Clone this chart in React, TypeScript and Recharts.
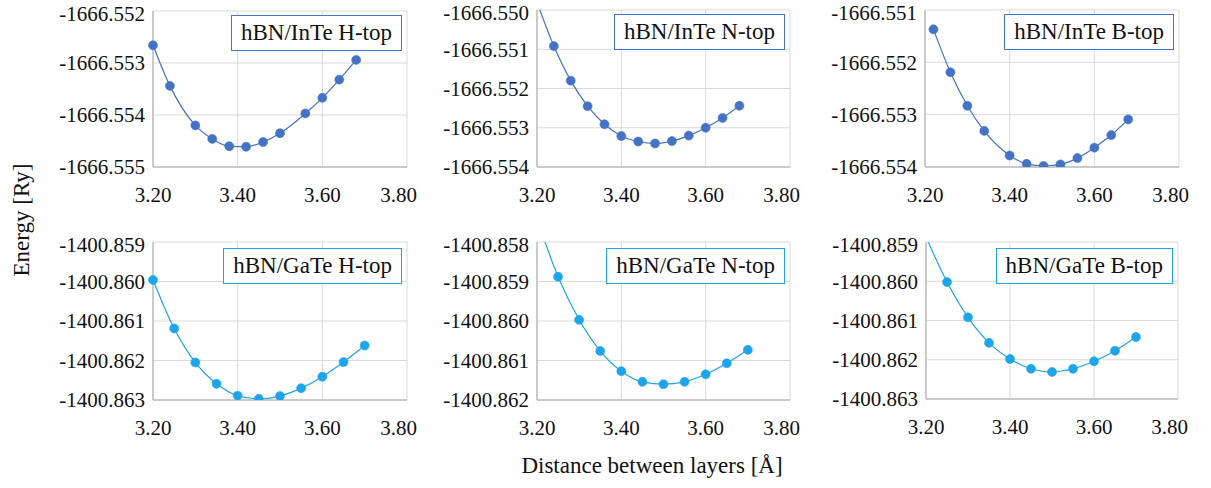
import React from 'react';
import { LineChart, Line, XAxis, YAxis, CartesianGrid, Legend } from 'recharts';

// Interlayer distance [Å] sampled for each stacking
const inteHtopX = [3.2, 3.24, 3.3, 3.34, 3.38, 3.42, 3.46, 3.5, 3.56, 3.6, 3.64, 3.68];
const inteNtopX = [3.2, 3.24, 3.28, 3.32, 3.36, 3.4, 3.44, 3.48, 3.52, 3.56, 3.6, 3.64, 3.68];
const inteBtopX = [3.22, 3.26, 3.3, 3.34, 3.4, 3.44, 3.48, 3.52, 3.56, 3.6, 3.64, 3.68];
const gateX = [3.2, 3.25, 3.3, 3.35, 3.4, 3.45, 3.5, 3.55, 3.6, 3.65, 3.7];

// Total energy [Ry]
const inteHtopE = [
  -1666.55266, -1666.55344, -1666.5542, -1666.55446, -1666.5546, -1666.55461,
  -1666.55452, -1666.55435, -1666.55397, -1666.55367, -1666.55332, -1666.55294,
];
const inteNtopE = [
  -1666.5498, -1666.55092, -1666.5518, -1666.55245, -1666.55291, -1666.55321, -1666.55335,
  -1666.5534, -1666.55334, -1666.5532, -1666.553, -1666.55275, -1666.55244,
];
const inteBtopE = [
  -1666.55137, -1666.55219, -1666.55283, -1666.55331, -1666.55378, -1666.55394,
  -1666.55398, -1666.55395, -1666.55383, -1666.55363, -1666.55339, -1666.55309,
];
const gateHtopE = [
  -1400.85996, -1400.86119, -1400.86205, -1400.86259, -1400.86289, -1400.86297,
  -1400.8629, -1400.8627, -1400.86241, -1400.86204, -1400.86162,
];
const gateNtopE = [
  -1400.85742, -1400.85888, -1400.85997, -1400.86076, -1400.86127, -1400.86154,
  -1400.8616, -1400.86154, -1400.86135, -1400.86107, -1400.86073,
];
const gateBtopE = [
  -1400.85887, -1400.86002, -1400.86092, -1400.86157, -1400.86198, -1400.86223,
  -1400.86231, -1400.86223, -1400.86204, -1400.86177, -1400.86142,
];

// Axis ticks
const xTicks = [3.2, 3.4, 3.6, 3.8];
const inteHtopTicks = [-1666.555, -1666.554, -1666.553, -1666.552];
const inteNtopTicks = [-1666.554, -1666.553, -1666.552, -1666.551, -1666.55];
const inteBtopTicks = [-1666.554, -1666.553, -1666.552, -1666.551];
const gateHtopTicks = [-1400.863, -1400.862, -1400.861, -1400.86, -1400.859];
const gateNtopTicks = [-1400.862, -1400.861, -1400.86, -1400.859, -1400.858];
const gateBtopTicks = [-1400.863, -1400.862, -1400.861, -1400.86, -1400.859];

const titles = [
  'hBN/InTe H-top', 'hBN/InTe N-top', 'hBN/InTe B-top',
  'hBN/GaTe H-top', 'hBN/GaTe N-top', 'hBN/GaTe B-top',
];

const IN_COLOR = '#4472c4';
const GA_COLOR = '#1ea5e9';
const FONT = 'Liberation Serif, Tinos, Times New Roman, DejaVu Serif, serif';

const YW = 120; // y axis width
const MT = 10;
const MR = 10;
const XH = 40;

const zip = (xs: number[], es: number[]) => xs.map((d, i) => ({ d, e: es[i] }));

const panels = [
  { data: zip(inteHtopX, inteHtopE), ticks: inteHtopTicks, color: IN_COLOR, x: 153, y: 11, w: 254, h: 156 },
  { data: zip(inteNtopX, inteNtopE), ticks: inteNtopTicks, color: IN_COLOR, x: 537, y: 10, w: 253, h: 157 },
  { data: zip(inteBtopX, inteBtopE), ticks: inteBtopTicks, color: IN_COLOR, x: 925, y: 10, w: 254, h: 157 },
  { data: zip(gateX, gateHtopE), ticks: gateHtopTicks, color: GA_COLOR, x: 153, y: 242, w: 254, h: 158 },
  { data: zip(gateX, gateNtopE), ticks: gateNtopTicks, color: GA_COLOR, x: 537, y: 242, w: 253, h: 158 },
  { data: zip(gateX, gateBtopE), ticks: gateBtopTicks, color: GA_COLOR, x: 926, y: 242, w: 252, h: 157 },
];

function Panel({ index }: { index: number }) {
  const p = panels[index];
  const lo = p.ticks[0];
  const hi = p.ticks[p.ticks.length - 1];
  const width = YW + p.w + MR;
  const height = MT + p.h + XH;

  // points above the top of the range are left unmarked, only the curve runs off
  const dot = (props: any) => {
    const { cx, cy, payload, index: i } = props;
    if (payload.e > hi) return <g key={i} />;
    return <circle key={i} cx={cx} cy={cy} r={4.5} fill={p.color} stroke={p.color} strokeWidth={0.6} />;
  };

  const box = () => (
    <div
      style={{
        border: `1px solid ${p.color}`,
        background: '#fff',
        padding: '1px 9px 2px',
        fontFamily: FONT,
        fontSize: 23,
        color: '#111',
        whiteSpace: 'nowrap',
        lineHeight: '31px',
      }}
    >
      {titles[index]}
    </div>
  );

  return (
    <div style={{ position: 'absolute', left: p.x - YW, top: p.y - MT, fontFamily: FONT }}>
      <LineChart
        width={width}
        height={height}
        data={p.data}
        margin={{ top: MT, right: MR, bottom: 0, left: 0 }}
        style={{ fontFamily: FONT }}
      >
        <CartesianGrid stroke="#d9d9d9" strokeWidth={1} />
        <XAxis
          dataKey="d"
          type="number"
          domain={[3.2, 3.8]}
          ticks={xTicks}
          tickFormatter={(v: number) => v.toFixed(2)}
          height={XH}
          tickLine={false}
          tickSize={0}
          tickMargin={20}
          axisLine={{ stroke: '#bfbfbf', strokeWidth: 1.5 }}
          tick={{ fill: '#111', fontSize: 21, fontFamily: FONT }}
        />
        <YAxis
          type="number"
          domain={[lo, hi]}
          ticks={p.ticks}
          allowDataOverflow
          tickFormatter={(v: number) => v.toFixed(3)}
          width={YW}
          tickLine={false}
          tickSize={0}
          tickMargin={8}
          axisLine={{ stroke: '#bfbfbf', strokeWidth: 1.5 }}
          tick={{ fill: '#111', fontSize: 21, fontFamily: FONT }}
        />
        <Legend
          layout="horizontal"
          align="center"
          verticalAlign="middle"
          content={box}
          wrapperStyle={{ top: MT + (index < 3 ? 4 : 6), right: MR + 5, width: 'auto' }}
        />
        <Line
          name={titles[index]}
          dataKey="e"
          type="monotone"
          stroke={p.color}
          strokeWidth={1.2}
          dot={dot}
          activeDot={false}
          isAnimationActive={false}
        />
      </LineChart>
    </div>
  );
}

export default function App() {
  return (
    <div
      style={{
        position: 'absolute',
        left: 0,
        top: 0,
        width: 1211,
        height: 488,
        background: '#fff',
        fontFamily: FONT,
        overflow: 'hidden',
      }}
    >
      {panels.map((_, i) => (
        <Panel key={i} index={i} />
      ))}
      <div
        style={{
          position: 'absolute',
          left: 22,
          top: 220,
          transform: 'translate(-50%, -50%) rotate(-90deg)',
          fontSize: 23,
          color: '#111',
          whiteSpace: 'nowrap',
        }}
      >
        Energy [Ry]
      </div>
      <div
        style={{
          position: 'absolute',
          left: 652,
          top: 466,
          transform: 'translate(-50%, -50%)',
          fontSize: 23,
          color: '#111',
          whiteSpace: 'nowrap',
        }}
      >
        Distance between layers [Å]
      </div>
    </div>
  );
}
